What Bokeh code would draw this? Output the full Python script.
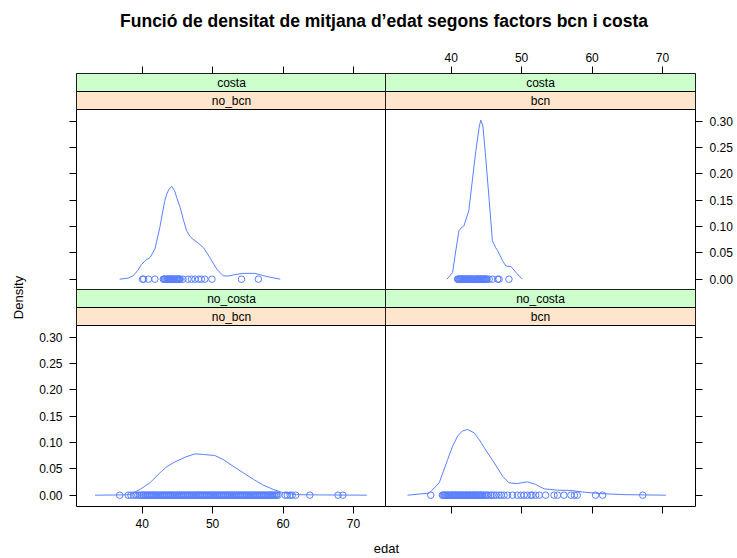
import math
from bokeh.plotting import figure
from bokeh.layouts import column, row
from bokeh.models import Range1d, FixedTicker, NumeralTickFormatter, CustomJSTickFormatter
from bokeh.core.properties import value
from bokeh.embed import file_html
from bokeh.resources import INLINE

# ---------------- data ----------------
title_text = "Funció de densitat de mitjana d’edat segons factors bcn  i costa"
x_label = "edat"
y_label = "Density"
x_ticks = [40, 50, 60, 70]
y_ticks = [0.0, 0.05, 0.10, 0.15, 0.20, 0.25, 0.30]

# panel: costa / no_bcn
tl_cx = [36.8, 38.0, 38.7, 39.4, 39.9, 40.5, 41.1, 41.8, 42.5, 43.2, 43.5, 43.8, 44.2, 44.6, 44.9,
         45.4, 45.8, 46.3, 46.8, 47.2, 48.0, 48.7, 49.6, 50.6, 51.5, 52.2, 52.9, 54.3, 56.0, 57.7, 59.6]
tl_cy = [0.0, 0.002, 0.0063, 0.017, 0.028, 0.036, 0.041, 0.057, 0.098, 0.149, 0.162, 0.171, 0.176, 0.168, 0.155,
         0.136, 0.115, 0.092, 0.081, 0.076, 0.068, 0.060, 0.041, 0.019, 0.0063, 0.006, 0.008, 0.011, 0.011, 0.005, 0.0]
tl_pts = [40.05, 40.2, 40.9, 41.8, 43.0, 43.1, 43.2, 43.35, 43.5, 43.6, 43.7, 43.8, 43.9, 44.0, 44.1,
          44.2, 44.3, 44.4, 44.5, 44.6, 44.75, 44.9, 45.0, 45.1, 45.2, 45.3, 45.4, 45.8, 46.5, 47.0,
          47.5, 48.0, 48.4, 48.9, 49.9, 54.1, 56.5]

# panel: costa / bcn
tr_cx = [39.4, 40.2, 40.65, 41.1, 41.4, 41.8, 42.5, 43.0, 43.5, 44.0, 44.2, 44.5, 44.9, 45.4, 45.85,
         46.3, 46.6, 47.3, 47.75, 48.5, 49.2, 50.1]
tr_cy = [0.0, 0.0126, 0.054, 0.092, 0.097, 0.101, 0.130, 0.187, 0.244, 0.291, 0.302, 0.291, 0.231, 0.149, 0.073,
         0.060, 0.054, 0.035, 0.025, 0.024, 0.0126, 0.0]
tr_pts = [40.9, 41.0, 41.1, 41.2, 41.3, 41.4, 41.5, 41.6, 41.7, 41.8, 41.9, 42.0, 42.1, 42.2, 42.3,
          42.4, 42.5, 42.6, 42.7, 42.8, 42.9, 43.0, 43.1, 43.25, 43.4, 43.5, 43.6, 43.7, 43.8, 43.9,
          44.0, 44.1, 44.2, 44.3, 44.4, 44.5, 44.6, 44.7, 44.8, 44.9, 45.0, 45.1, 45.4, 45.85, 46.6,
          46.8, 48.2]

# panel: no_costa / no_bcn
bl_cx = [33.3, 36.0, 38.25, 39.7, 41.1, 42.75, 43.5, 44.4, 46.1, 47.5, 48.7, 50.3, 51.5, 52.9, 54.35,
         55.8, 57.2, 58.6, 60.0, 61.9, 65.0, 71.9]
bl_cy = [0.0, 0.0003, 0.001, 0.011, 0.0235, 0.0456, 0.054, 0.0615, 0.0722, 0.0785, 0.0773, 0.0754, 0.0678,
         0.055, 0.0425, 0.030, 0.019, 0.011, 0.0046, 0.001, 0.0005, 0.0]
bl_pts = [36.8, 38.0, 38.4, 38.8, 39.1, 39.4, 39.7, 39.9,
          40.1, 40.2, 40.4, 40.5, 40.7, 40.8, 41.0, 41.1, 41.3, 41.4, 41.6, 41.7, 41.9, 42.0, 42.2, 42.3,
          42.5, 42.6, 42.8, 42.9, 43.1, 43.2, 43.4, 43.5, 43.7, 43.8, 44.0, 44.1, 44.3, 44.4, 44.6, 44.7,
          44.9, 45.0, 45.2, 45.3, 45.5, 45.6, 45.8, 45.9, 46.1, 46.2, 46.4, 46.5, 46.7, 46.8, 47.0, 47.1,
          47.3, 47.4, 47.6, 47.7, 47.9, 48.0, 48.2, 48.3, 48.5, 48.6, 48.8, 48.9, 49.1, 49.2, 49.4, 49.5,
          49.7, 49.8, 50.0, 50.1, 50.3, 50.4, 50.6, 50.7, 50.9, 51.0, 51.2, 51.3, 51.5, 51.6, 51.8, 51.9,
          52.1, 52.2, 52.4, 52.5, 52.7, 52.8, 53.0, 53.1, 53.3, 53.4, 53.6, 53.7, 53.9, 54.0, 54.2, 54.3,
          54.5, 54.6, 54.8, 54.9, 55.1, 55.2, 55.4, 55.5, 55.7, 55.8, 56.0, 56.1, 56.3, 56.4, 56.6, 56.7,
          56.9, 57.0, 57.2, 57.3, 57.5, 57.6, 57.8, 57.9, 58.1, 58.2, 58.4, 58.5, 58.7, 58.8, 59.0, 59.1,
          59.3, 60.3, 60.6, 61.0, 61.3, 61.8, 63.8, 67.8, 68.5]

# panel: no_costa / bcn
br_cx = [33.8, 36.9, 38.3, 39.5, 40.2, 40.9, 41.6, 42.3, 43.25, 44.0, 44.7, 46.1, 47.3, 48.2, 49.4, 50.8, 52.0,
         53.2, 55.1, 57.0, 58.9, 61.25, 64.55, 67.4, 70.5]
br_cy = [0.0, 0.004, 0.0235, 0.0678, 0.093, 0.112, 0.122, 0.1247, 0.1185, 0.105, 0.090, 0.0615, 0.036, 0.0235,
         0.022, 0.0254, 0.0203, 0.012, 0.0095, 0.009, 0.0057, 0.003, 0.001, 0.0005, 0.0]
br_pts = [37.1, 38.75, 38.85, 39.0, 39.1, 39.2, 39.35, 39.5, 39.6, 39.7, 39.85, 40.0, 40.1, 40.2,
          40.35, 40.5, 40.6, 40.7, 40.85, 41.0, 41.1, 41.2, 41.35, 41.5, 41.6, 41.7, 41.85, 42.0, 42.1,
          42.2, 42.35, 42.5, 42.6, 42.7, 42.85, 43.0, 43.1, 43.2, 43.35, 43.5, 43.6, 43.7, 43.85, 44.0,
          44.1, 44.2, 44.35, 44.5, 44.7, 44.9, 45.1, 45.3, 45.6, 45.8, 46.1, 46.4, 46.8, 47.1, 47.5,
          48.0, 48.7, 49.4, 49.9, 50.35, 50.8, 51.3, 51.5, 52.0, 52.5, 53.4, 54.6, 55.1, 56.0, 57.0,
          57.5, 57.9, 60.5, 61.5, 67.2]

# ---------------- style ----------------
FONT = "Liberation Sans"
LINE = "#5a80ff"
GREEN = "#ccffcc"
ORANGE = "#ffe5cc"

XLIM = (30.67, 74.69)
YLIM = (-0.0215, 0.3222)
DATA_PX = 181
STRIP = 18.0 * (YLIM[1] - YLIM[0]) / DATA_PX
Y_TOP = YLIM[1] + 2 * STRIP
XMID = (XLIM[0] + XLIM[1]) / 2

blank = CustomJSTickFormatter(code="return ''")


def style_axis(ax, labels, standoff):
    ax.axis_line_color = None
    ax.major_tick_in = 0
    ax.major_tick_out = 7
    ax.major_tick_line_color = "black"
    ax.minor_tick_line_color = None
    ax.major_label_text_font = FONT
    ax.major_label_text_font_size = "12px"
    ax.major_label_text_color = "black"
    ax.major_label_standoff = standoff
    if not labels:
        ax.formatter = blank


def panel(cx, cy, pts, outer, inner, xloc, xlab, yloc, ylab, width, height, mb):
    p = figure(width=width, height=height,
               x_range=Range1d(*XLIM), y_range=Range1d(YLIM[0], Y_TOP),
               x_axis_location=xloc, y_axis_location=yloc,
               output_backend="svg", toolbar_location=None,
               min_border_left=mb[0], min_border_right=mb[1],
               min_border_top=mb[2], min_border_bottom=mb[3])
    p.xgrid.visible = False
    p.ygrid.visible = False
    p.outline_line_color = "black"
    p.outline_line_width = 1
    p.outline_line_alpha = 1
    p.background_fill_color = "white"
    p.border_fill_color = "white"
    p.xaxis.ticker = FixedTicker(ticks=x_ticks)
    p.yaxis.ticker = FixedTicker(ticks=y_ticks)
    p.yaxis.formatter = NumeralTickFormatter(format="0.00")
    for ax in p.xaxis:
        style_axis(ax, xlab, 5)
    for ax in p.yaxis:
        style_axis(ax, ylab, 7)
    # strips
    p.quad(left=[XLIM[0]], right=[XLIM[1]], bottom=[YLIM[1]], top=[YLIM[1] + STRIP],
           fill_color=ORANGE, line_color="black", line_width=1)
    p.quad(left=[XLIM[0]], right=[XLIM[1]], bottom=[YLIM[1] + STRIP], top=[Y_TOP],
           fill_color=GREEN, line_color="black", line_width=1)
    p.text(x=[XMID, XMID], y=[YLIM[1] + STRIP / 2, YLIM[1] + 1.5 * STRIP], text=[inner, outer],
           text_align="center", text_baseline="middle", text_font=value(FONT),
           text_font_size="12px", text_color="black")
    # density and points
    p.line(cx, cy, line_color=LINE, line_width=1)
    p.scatter(pts, [0.0] * len(pts), marker="circle", size=6.5, fill_color=None,
              line_color=LINE, line_width=1)
    return p


tl = panel(tl_cx, tl_cy, tl_pts, "costa", "no_bcn", "above", False, "left", False, 356, 250, (46, 0, 33, 0))
tr = panel(tr_cx, tr_cy, tr_pts, "costa", "bcn", "above", True, "right", True, 352, 250, (0, 42, 33, 0))
bl = panel(bl_cx, bl_cy, bl_pts, "no_costa", "no_bcn", "below", True, "left", True, 356, 245, (46, 0, 0, 28))
br = panel(br_cx, br_cy, br_pts, "no_costa", "bcn", "below", False, "right", False, 352, 245, (0, 42, 0, 28))
# overlap shared borders by one pixel so that adjacent panels share a single line
tr.margin = (0, 0, 0, -1)
bl.margin = (-1, 0, 0, 0)
br.margin = (-1, 0, 0, -1)


def text_fig(w, h):
    f = figure(width=w, height=h, x_range=Range1d(0, w), y_range=Range1d(0, h),
               x_axis_location=None, y_axis_location=None, output_backend="svg",
               toolbar_location=None, min_border=0)
    f.min_border_left = f.min_border_right = f.min_border_top = f.min_border_bottom = 0
    f.xgrid.visible = False
    f.ygrid.visible = False
    f.outline_line_color = None
    return f


title_fig = text_fig(737, 40)
title_fig.text(x=[386], y=[20], text=[title_text], text_align="center", text_baseline="middle",
               text_font=value(FONT), text_font_size="17.5px", text_font_style="bold", text_color="black")

ylab_fig = text_fig(30, 494)
ylab_fig.text(x=[18], y=[237], text=[y_label], angle=math.pi / 2, text_align="center",
              text_baseline="middle", text_font=value(FONT), text_font_size="13px", text_color="black")

xlab_fig = text_fig(737, 24)
xlab_fig.text(x=[386], y=[10], text=[x_label], text_align="center", text_baseline="middle",
              text_font=value(FONT), text_font_size="13px", text_color="black")

grid = column(row(tl, tr, spacing=0), row(bl, br, spacing=0), spacing=0)
root = column(title_fig, row(ylab_fig, grid, spacing=0), xlab_fig, spacing=0)
root.styles = {"position": "absolute", "left": "0px", "top": "0px"}

open("out.html", "w").write(file_html(root, INLINE))
